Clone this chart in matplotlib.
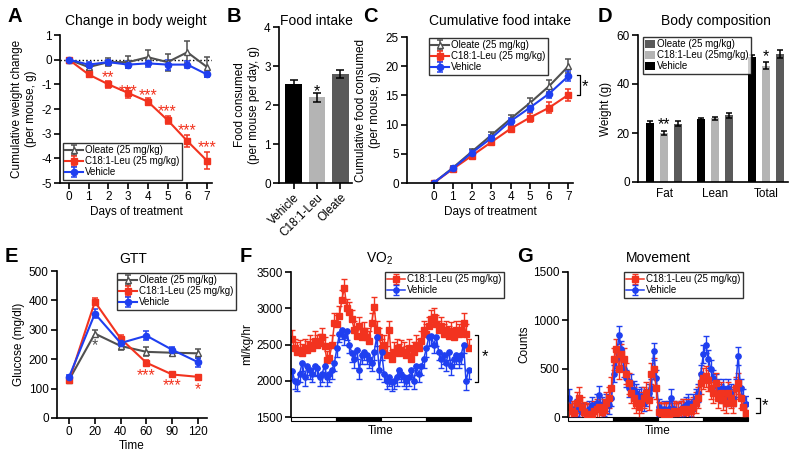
import numpy as np
import matplotlib
matplotlib.use("Agg")
import matplotlib.pyplot as plt
from matplotlib.patches import Rectangle
from matplotlib.lines import Line2D

plt.rcParams['font.family'] = ['Liberation Sans', 'DejaVu Sans']
plt.rcParams['axes.unicode_minus'] = False
plt.rcParams['axes.linewidth'] = 1.2

RED = '#f2331f'
BLUE = '#1f3ff0'
GRAY = '#505050'
LIGHT = '#b4b4b4'

# ---------- data ----------
days = [0, 1, 2, 3, 4, 5, 6, 7]

# A: change in body weight
wt_oleate = [0, -0.3, -0.1, -0.1, 0.1, -0.1, 0.3, -0.3]
wt_oleate_err = [0.05, 0.1, 0.15, 0.25, 0.3, 0.35, 0.45, 0.4]
wt_leu = [0, -0.6, -1.0, -1.35, -1.7, -2.45, -3.3, -4.1]
wt_leu_err = [0.05, 0.1, 0.15, 0.2, 0.15, 0.15, 0.25, 0.35]
wt_veh = [0, -0.2, -0.1, -0.2, -0.15, -0.2, -0.2, -0.6]
wt_veh_err = [0.05, 0.1, 0.1, 0.15, 0.15, 0.2, 0.15, 0.1]
wt_star_days = [2, 3, 4, 5, 6, 7]
wt_star_y = [-0.57, -1.12, -1.29, -1.92, -2.7, -3.4]
wt_star_txt = ['**', '***', '***', '***', '***', '***']

# B: food intake
food_groups = ['Vehicle', 'C18:1-Leu', 'Oleate']
food_vals = [2.55, 2.2, 2.8]
food_err = [0.1, 0.12, 0.1]

# C: cumulative food intake
cum_oleate = [0, 2.6, 5.4, 8.2, 11.0, 13.7, 16.6, 20.0]
cum_oleate_err = [0.2, 0.3, 0.4, 0.5, 0.7, 0.8, 1.0, 1.2]
cum_leu = [0, 2.4, 4.7, 7.0, 9.3, 11.2, 12.9, 15.1]
cum_leu_err = [0.2, 0.3, 0.4, 0.5, 0.6, 0.8, 0.9, 1.0]
cum_veh = [0, 2.5, 5.2, 7.7, 10.6, 12.9, 15.3, 18.3]
cum_veh_err = [0.2, 0.3, 0.4, 0.5, 0.6, 0.7, 0.8, 0.8]

# D: body composition
comp_cats = ['Fat', 'Lean', 'Total']
comp_veh = [24.0, 25.8, 51.0]
comp_veh_err = [0.8, 0.5, 1.0]
comp_leu = [20.0, 26.0, 47.5]
comp_leu_err = [0.8, 0.7, 1.5]
comp_oleate = [23.8, 27.2, 52.3]
comp_oleate_err = [1.0, 1.0, 1.5]

# E: GTT
gtt_time = ['0', '20', '40', '60', '90', '120']
gtt_oleate = [130, 287, 245, 225, 222, 220]
gtt_oleate_err = [8, 12, 15, 15, 12, 15]
gtt_leu = [128, 395, 270, 188, 148, 140]
gtt_leu_err = [8, 12, 12, 8, 6, 6]
gtt_veh = [140, 355, 255, 280, 232, 190]
gtt_veh_err = [6, 15, 10, 15, 10, 15]

# F: VO2
vo2_leu = [2570, 2450, 2400, 2430, 2380, 2450, 2420, 2500, 2450, 2550, 2500, 2520,
           2600, 2480, 2280, 2320, 2500, 2800, 2780, 2900, 3120, 3280, 3000, 2950,
           2850, 2700, 2620, 2750, 2600, 2680, 2600, 2550, 2800, 3020, 2700, 2600,
           2450, 2500, 2350, 2700, 2300, 2400, 2450, 2380, 2430, 2400, 2350, 2450,
           2300, 2400, 2500, 2450, 2550, 2700, 2650, 2750, 2850, 2880, 2780, 2700,
           2750, 2650, 2700, 2620, 2680, 2600, 2700, 2650, 2700, 2800, 2650, 2450]
vo2_veh = [2130, 2000, 1980, 2100, 2250, 2050, 2200, 2150, 2100, 2200, 2180, 2050,
           2100, 2200, 2050, 2100, 2150, 2250, 2450, 2650, 2700, 2620, 2680, 2500,
           2380, 2300, 2420, 2150, 2350, 2400, 2350, 2300, 2250, 2400, 2600, 2150,
           2400, 2100, 2000, 2050, 1980, 2000, 2050, 2150, 2100, 2050, 2000, 2050,
           2150, 2000, 2200, 2100, 2200, 2300, 2450, 2600, 2620, 2500, 2600, 2400,
           2300, 2350, 2250, 2400, 2200, 2300, 2350, 2300, 2350, 2500, 1990, 2150]
vo2_leu_err = 130
vo2_veh_err = 120

# G: movement
mov_leu = [100, 60, 40, 150, 200, 100, 50, 30, 20, 30, 60, 80,
           100, 50, 80, 150, 200, 300, 600, 700, 500, 650, 600, 450,
           350, 250, 200, 150, 100, 150, 200, 250, 180, 450, 500, 300,
           50, 40, 30, 50, 30, 40, 60, 40, 50, 60, 80, 50,
           80, 60, 100, 150, 200, 350, 400, 420, 380, 300, 250, 350,
           200, 250, 180, 150, 250, 200, 150, 300, 350, 200, 100, 40]
mov_veh = [200, 80, 60, 100, 80, 50, 60, 40, 80, 120, 60, 150,
           230, 120, 100, 150, 120, 200, 450, 600, 850, 700, 500, 400,
           300, 350, 280, 250, 200, 220, 150, 200, 250, 300, 680, 400,
           100, 60, 80, 60, 80, 200, 80, 60, 50, 80, 100, 120,
           150, 100, 150, 200, 250, 450, 650, 750, 600, 500, 400, 350,
           300, 250, 300, 200, 300, 250, 200, 300, 630, 300, 200, 130]
mov_leu_err = 110
mov_veh_err = 90

# ---------- helpers ----------
fig = plt.figure(figsize=(8, 4.53), dpi=100)


def px_axes(l, t, r, b):
    return fig.add_axes([l / 800, 1 - b / 453, (r - l) / 800, (b - t) / 453])


def style(ax):
    ax.spines['top'].set_visible(False)
    ax.spines['right'].set_visible(False)
    ax.tick_params(direction='out', length=4, width=1.2, labelsize=8.5, pad=2)


def legend(ax, handles, labels, x, y, **kw):
    leg = ax.legend(handles, labels, loc='upper left',
                    bbox_to_anchor=(x / 800, 1 - y / 453), bbox_transform=fig.transFigure,
                    fontsize=7, frameon=True, fancybox=False, edgecolor='black',
                    borderpad=0.25, labelspacing=0.1, handletextpad=0.2,
                    borderaxespad=0, **kw)
    leg.get_frame().set_linewidth(1.0)
    return leg


def star(ax, x, y, s, color='black', fs=11.5):
    ax.annotate(s, (x, y), xytext=(0, -0.55 * fs), textcoords='offset points',
                ha='center', va='baseline', color=color, fontsize=fs, annotation_clip=False)


def line_eb(ax, x, y, e, color, marker, mfc=None, ms=4.5):
    return ax.errorbar(x, y, yerr=e, color=color, marker=marker, ms=ms,
                       mfc=mfc if mfc else color, mec=color, lw=1.5,
                       elinewidth=1.1, capsize=2.5, capthick=1.1)


def bracket(ax, x0, x1, y0, y1, sx, sy):
    ax.add_line(Line2D([x0, x1, x1, x0], [y0, y0, y1, y1], transform=ax.transAxes,
                       color='black', lw=0.9, clip_on=False))
    ax.text(sx, sy, '*', transform=ax.transAxes, ha='center', va='center', fontsize=12)


def letter(x, y, s):
    fig.text(x / 800, 1 - y / 453, s, fontsize=14.5, fontweight='bold', va='baseline')


def title(x, y, s):
    fig.text(x / 800, 1 - y / 453, s, fontsize=10, ha='center', va='baseline')


def daynight(ax):
    h = 0.028
    for i, c in enumerate(['white', 'black', 'white', 'black']):
        ax.add_patch(Rectangle((i * 0.25, -h), 0.25, h, transform=ax.transAxes,
                               facecolor=c, edgecolor='black', lw=0.8, clip_on=False))


# ---------- A ----------
ax = px_axes(60, 35, 212, 183)
style(ax)
ax.axhline(0, color='black', ls=':', lw=1)
hA1 = line_eb(ax, days, wt_oleate, wt_oleate_err, GRAY, '^', mfc='white')
hA2 = line_eb(ax, days, wt_leu, wt_leu_err, RED, 's')
hA3 = line_eb(ax, days, wt_veh, wt_veh_err, BLUE, 'o')
for d, yv, t in zip(wt_star_days, wt_star_y, wt_star_txt):
    star(ax, d, yv, t, RED)
ax.set_xlim(-0.45, 7.25)
ax.set_ylim(-5, 1)
ax.set_xticks(days)
ax.set_yticks(range(-5, 2))
ax.set_xlabel('Days of treatment', fontsize=8.5, labelpad=2)
ax.set_ylabel('Cumulative weight change\n(per mouse, g)', fontsize=8.5, labelpad=3)
legend(ax, [hA1, hA2, hA3], ['Oleate (25 mg/kg)', 'C18:1-Leu (25 mg/kg)', 'Vehicle'],
       63, 143, handlelength=1.8)

# ---------- B ----------
ax = px_axes(279, 27, 352, 183)
style(ax)
ax.bar(range(3), food_vals, width=0.72, color=['black', LIGHT, '#5a5a5a'],
       yerr=food_err, capsize=3, error_kw=dict(elinewidth=1.1, capthick=1.1))
star(ax, 1, 2.46, '*')
ax.set_xlim(-0.62, 2.49)
ax.set_ylim(0, 4)
ax.set_yticks(range(5))
ax.set_xticks(range(3))
ax.set_xticklabels(food_groups, rotation=45, ha='right', rotation_mode='anchor', fontsize=8.5)
ax.set_ylabel('Food consumed\n(per mouse per day, g)', fontsize=8.5, labelpad=3)

# ---------- C ----------
ax = px_axes(407, 37, 573, 183)
style(ax)
hC1 = line_eb(ax, days, cum_oleate, cum_oleate_err, GRAY, '^', mfc='white')
hC2 = line_eb(ax, days, cum_leu, cum_leu_err, RED, 's')
hC3 = line_eb(ax, days, cum_veh, cum_veh_err, BLUE, 'o')
ax.set_xlim(-1.38, 7.24)
ax.set_ylim(0, 25)
ax.set_xticks(days)
ax.set_yticks(range(0, 26, 5))
ax.set_xlabel('Days of treatment', fontsize=8.5, labelpad=2)
ax.set_ylabel('Cumulative food consumed\n(per mouse, g)', fontsize=8.5, labelpad=3)
bracket(ax, 1.024, 1.042, 18.5 / 25, 15.1 / 25, 1.075, 16.5 / 25)
legend(ax, [hC1, hC2, hC3], ['Oleate (25 mg/kg)', 'C18:1-Leu (25 mg/kg)', 'Vehicle'],
       429, 38, handlelength=1.8)

# ---------- D ----------
ax = px_axes(638, 35, 788, 182)
style(ax)
xg = np.arange(3)
ek = dict(elinewidth=1.1, capthick=1.1)
bV = ax.bar(xg - 0.27, comp_veh, 0.165, color='black', yerr=comp_veh_err, capsize=2.5, error_kw=ek)
bL = ax.bar(xg, comp_leu, 0.165, color=LIGHT, yerr=comp_leu_err, capsize=2.5, error_kw=ek)
bO = ax.bar(xg + 0.27, comp_oleate, 0.165, color='#5a5a5a', yerr=comp_oleate_err, capsize=2.5, error_kw=ek)
star(ax, 0, 25.3, '**')
star(ax, 2, 53.0, '*')
ax.set_xlim(-0.51, 2.43)
ax.set_ylim(0, 60)
ax.set_yticks([0, 20, 40, 60])
ax.set_xticks(xg)
ax.set_xticklabels(comp_cats, fontsize=8.5)
ax.tick_params(axis='x', length=0, pad=4)
ax.set_ylabel('Weight (g)', fontsize=8.5, labelpad=3)
legend(ax, [bO, bL, bV], ['Oleate (25 mg/kg)', 'C18:1-Leu (25mg/kg)', 'Vehicle'],
       643, 37, handlelength=1.0, handleheight=1.0)

# ---------- E ----------
ax = px_axes(57, 271, 207, 418)
style(ax)
xe = np.arange(len(gtt_time))
hE1 = line_eb(ax, xe, gtt_oleate, gtt_oleate_err, GRAY, '^', mfc='white')
hE2 = line_eb(ax, xe, gtt_leu, gtt_leu_err, RED, 's')
hE3 = line_eb(ax, xe, gtt_veh, gtt_veh_err, BLUE, 'o')
star(ax, 1, 262, '*', GRAY)
star(ax, 3, 160, '***', RED)
star(ax, 4, 124, '***', RED)
star(ax, 5, 112, '*', RED)
ax.set_xlim(-0.47, 5.35)
ax.set_ylim(0, 500)
ax.set_xticks(xe)
ax.set_xticklabels(gtt_time)
ax.set_yticks(range(0, 501, 100))
ax.set_xlabel('Time', fontsize=8.5, labelpad=1)
ax.set_ylabel('Glucose (mg/dl)', fontsize=8.5, labelpad=3)
legend(ax, [hE1, hE2, hE3], ['Oleate (25 mg/kg)', 'C18:1-Leu (25 mg/kg)', 'Vehicle'],
       117, 273, handlelength=1.8)

# ---------- F ----------
ax = px_axes(291, 272, 471, 417)
style(ax)
xt = np.arange(len(vo2_leu))
hF1 = ax.errorbar(xt, vo2_leu, yerr=[np.zeros(len(xt)), np.full(len(xt), vo2_leu_err)],
                  color=RED, marker='s', ms=3.8, lw=1.1, elinewidth=1.0, capsize=2)
hF2 = ax.errorbar(xt, vo2_veh, yerr=[np.full(len(xt), vo2_veh_err), np.zeros(len(xt))],
                  color=BLUE, marker='o', ms=3.8, lw=1.1, elinewidth=1.0, capsize=2)
ax.set_xlim(-0.5, 72)
ax.set_ylim(1500, 3500)
ax.set_yticks(range(1500, 3501, 500))
ax.set_xticks([])
ax.spines['bottom'].set_visible(False)
daynight(ax)
ax.set_xlabel('Time', fontsize=8.5, labelpad=6)
ax.set_ylabel('ml/kg/hr', fontsize=8.5, labelpad=2)
bracket(ax, 1.02, 1.04, (2636 - 1500) / 2000, (1986 - 1500) / 2000, 1.075, (2330 - 1500) / 2000)
legend(ax, [hF1, hF2], ['C18:1-Leu (25 mg/kg)', 'Vehicle'], 385, 272, handlelength=1.8)

# ---------- G ----------
ax = px_axes(568, 272, 748, 417)
style(ax)
xt = np.arange(len(mov_leu))
hG2 = ax.errorbar(xt, mov_veh, yerr=mov_veh_err, color=BLUE, marker='o', ms=3.8,
                  lw=1.1, elinewidth=1.0, capsize=2)
hG1 = ax.errorbar(xt, mov_leu, yerr=mov_leu_err, color=RED, marker='s', ms=3.8,
                  lw=1.1, elinewidth=1.0, capsize=2)
ax.set_xlim(-0.5, 72)
ax.set_ylim(0, 1500)
ax.set_yticks(range(0, 1501, 500))
ax.set_xticks([])
ax.spines['bottom'].set_visible(False)
daynight(ax)
ax.set_xlabel('Time', fontsize=8.5, labelpad=6)
ax.set_ylabel('Counts', fontsize=8.5, labelpad=2)
bracket(ax, 1.045, 1.065, 197 / 1500, 41 / 1500, 1.095, 115 / 1500)
legend(ax, [hG1, hG2], ['C18:1-Leu (25 mg/kg)', 'Vehicle'], 624, 272, handlelength=1.8)

# ---------- letters & titles ----------
for x, y, s in [(7, 22, 'A'), (227, 22, 'B'), (363, 22, 'C'), (598, 22, 'D'),
                (5, 262, 'E'), (240, 262, 'F'), (517, 262, 'G')]:
    letter(x, y, s)
for x, y, s in [(136, 25, 'Change in body weight'), (316, 25, 'Food intake'),
                (500, 25, 'Cumulative food intake'), (716, 25, 'Body composition'),
                (133, 263, 'GTT'), (380, 263, r'VO$_\mathregular{2}$'), (658, 262, 'Movement')]:
    title(x, y, s)

fig.savefig('out.png', dpi=100)
